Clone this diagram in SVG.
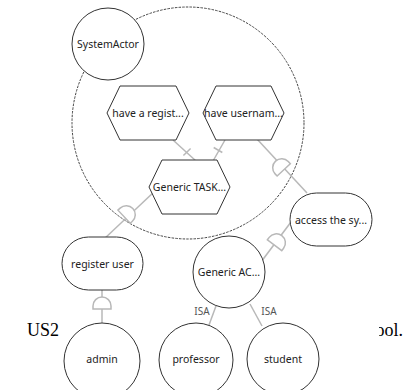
<svg xmlns="http://www.w3.org/2000/svg" width="405" height="390" viewBox="0 0 405 390">
<style>
.bg{font-family:"Liberation Serif",serif;font-size:18px;fill:#000}
.n{fill:#fff;stroke:#333;stroke-width:1}
.t{font-family:"Noto Sans","Open Sans",sans-serif;font-size:10.5px;fill:#222;text-anchor:middle;dominant-baseline:central}
.c{fill:none;stroke:#b8b8b8;stroke-width:1.5}
.d{fill:#fff;stroke:#b8b8b8;stroke-width:1.5}
.lbl{font-family:"Noto Sans","Open Sans",sans-serif;font-size:10px;fill:#555;text-anchor:middle;dominant-baseline:central}
</style>
<defs>
<path id="D" d="M -4,-9 L -1,-9 A 9 9 0 0 1 -1,9 L -4,9 Z"/>
<clipPath id="clipL"><rect x="0" y="300" width="61" height="50"/></clipPath>
<clipPath id="clipR"><rect x="379" y="300" width="26" height="50"/></clipPath>
</defs>
<rect width="405" height="390" fill="#fff"/>
<text class="bg" x="27" y="336" clip-path="url(#clipL)">US2</text>
<text class="bg" x="403" y="336" text-anchor="end" clip-path="url(#clipR)">ool.</text>
<g id="boundary">
<circle cx="188" cy="123" r="116" fill="none" stroke="#444" stroke-width="1" stroke-dasharray="2.5 1.2"/>
</g>
<g id="connectors">
<line class="c" x1="173" y1="140" x2="196" y2="161"/>
<line class="c" x1="183.4" y1="155.5" x2="190.6" y2="148.5"/>
<line class="c" x1="225" y1="140" x2="213" y2="161"/>
<line class="c" x1="213.7" y1="147.5" x2="222.3" y2="152.5"/>
<line class="c" x1="257" y1="139" x2="307" y2="193"/>
<use href="#D" class="d" transform="translate(281,167) rotate(-133)"/>
<line class="c" x1="155" y1="191" x2="103" y2="240"/>
<use href="#D" class="d" transform="translate(127,214) rotate(-43)"/>
<line class="c" x1="102" y1="290" x2="102" y2="323"/>
<use href="#D" class="d" transform="translate(102,305) rotate(-90)"/>
<line class="c" x1="261" y1="262" x2="294" y2="218"/>
<use href="#D" class="d" transform="translate(277,242) rotate(-53)"/>
<line class="c" x1="216" y1="306" x2="209" y2="325"/>
<line class="c" x1="250" y1="304" x2="262" y2="326"/>
<text class="lbl" x="202" y="311">ISA</text>
<text class="lbl" x="269" y="311">ISA</text>
</g>
<g id="SystemActor">
<circle class="n" cx="108" cy="44" r="36"/>
<text class="t" x="108" y="44">SystemActor</text>
</g>
<g id="have-register">
<polygon class="n" points="107,113 120,86 176,86 189,113 176,140 120,140"/>
<text class="t" x="148" y="113">have a regist...</text>
</g>
<g id="have-username">
<polygon class="n" points="203,113 216,86 271,86 284,113 271,140 216,140"/>
<text class="t" x="243.5" y="113">have usernam...</text>
</g>
<g id="generic-task">
<polygon class="n" points="149,187 162,160 217,160 230,187 217,214 162,214"/>
<text class="t" x="189.5" y="187">Generic TASK...</text>
</g>
<g id="access">
<rect class="n" x="290" y="193" width="82" height="53" rx="26.5"/>
<text class="t" x="331" y="219.5">access the sy...</text>
</g>
<g id="register-user">
<rect class="n" x="62" y="237" width="81" height="53" rx="26.5"/>
<text class="t" x="102.5" y="263.5">register user</text>
</g>
<g id="generic-actor">
<circle class="n" cx="229" cy="272" r="36"/>
<text class="t" x="229" y="272">Generic AC...</text>
</g>
<g id="admin">
<circle class="n" cx="102" cy="361" r="38"/>
<text class="t" x="102" y="359">admin</text>
</g>
<g id="professor">
<circle class="n" cx="196" cy="360" r="37"/>
<text class="t" x="196" y="359">professor</text>
</g>
<g id="student">
<circle class="n" cx="283" cy="359" r="36"/>
<text class="t" x="283" y="359">student</text>
</g>
</svg>
